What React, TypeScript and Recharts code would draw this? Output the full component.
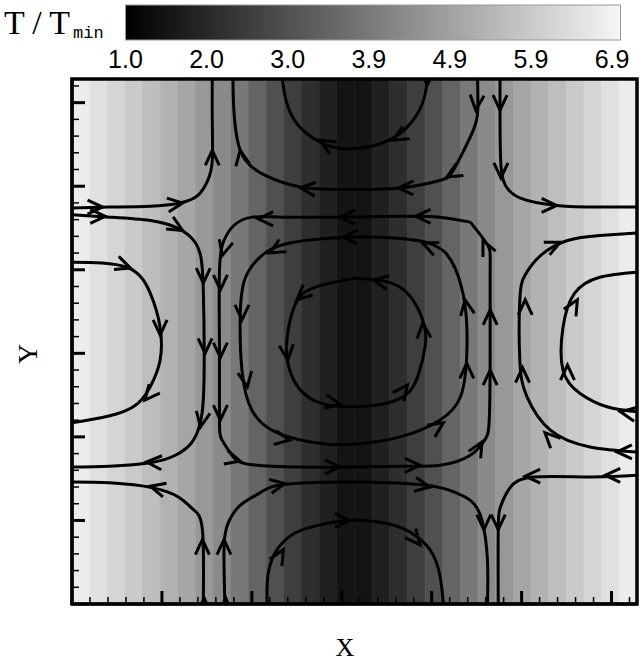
import { ScatterChart, Scatter, XAxis, YAxis, ReferenceArea } from "recharts";

const TWO_PI = 6.2832;

// T/Tmin in each vertical band of the field, left to right
const bandT = [
  6.46, 6.18, 5.93, 5.67, 5.4, 5.12, 4.84, 4.52, 4.19, 3.78, 3.31, 2.85, 2.43, 2.06, 1.74, 1.46,
  1.46, 1.74, 2.06, 2.43, 2.85, 3.31, 3.78, 4.19, 4.52, 4.84, 5.12, 5.4, 5.67, 5.93, 6.18, 6.46,
];

const legendLabels = ["1.0", "2.0", "3.0", "3.9", "4.9", "5.9", "6.9"];

const xTicks = [
  0.2, 0.4, 0.6, 0.8, 1, 1.2, 1.4, 1.6, 1.8, 2, 2.2, 2.4, 2.6, 2.8, 3, 3.2, 3.4, 3.6, 3.8, 4, 4.2,
  4.4, 4.6, 4.8, 5, 5.2, 5.4, 5.6, 5.8, 6, 6.2,
];
const yTicks = xTicks;

// streamlines, [x, y] in the plot's units (0..2pi)
const topLeftUp = [[0, 4.74], [0.42, 4.75], [0.87, 4.76], [1.2, 4.8], [1.4, 4.89], [1.51, 5.07], [1.56, 5.31], [1.56, 5.79], [1.56, 6.28]];
const leftOuter = [[0, 4.66], [0.42, 4.63], [0.87, 4.59], [1.15, 4.51], [1.33, 4.38], [1.43, 4.17], [1.46, 3.76], [1.47, 3.04], [1.46, 2.44], [1.42, 2.14], [1.33, 1.93], [1.15, 1.78], [0.87, 1.69], [0.42, 1.65], [0, 1.64]];
const centreOuter = [[4.43, 4.57], [4.09, 4.63], [3.65, 4.64], [3.0, 4.63], [2.34, 4.63], [2.0, 4.63], [1.8, 4.53], [1.69, 4.35], [1.64, 4.0], [1.64, 3.04], [1.64, 2.2], [1.67, 1.96], [1.78, 1.78], [1.98, 1.67], [2.54, 1.64], [3.09, 1.64], [3.65, 1.65], [4.09, 1.66], [4.43, 1.78], [4.59, 1.96], [4.64, 2.2], [4.65, 3.04], [4.65, 4.0], [4.62, 4.3], [4.43, 4.57]];
const centreMid = [[4.15, 4.21], [3.84, 4.35], [3.09, 4.39], [2.42, 4.32], [2.11, 4.17], [1.92, 3.88], [1.87, 3.4], [1.89, 2.8], [2.0, 2.32], [2.26, 2.06], [2.65, 1.94], [3.09, 1.91], [3.65, 2.0], [4.09, 2.2], [4.32, 2.48], [4.39, 2.98], [4.37, 3.58], [4.26, 4.02], [4.15, 4.21]];
const centreInner = [[3.15, 3.9], [2.7, 3.79], [2.48, 3.58], [2.39, 3.16], [2.42, 2.8], [2.65, 2.46], [3.15, 2.36], [3.65, 2.46], [3.85, 2.74], [3.93, 3.1], [3.9, 3.4], [3.65, 3.79], [3.15, 3.9]];
const topInner = [[3.95, 6.27], [3.9, 6.0], [3.73, 5.71], [3.46, 5.52], [3.13, 5.45], [2.84, 5.49], [2.54, 5.7], [2.39, 5.99], [2.34, 6.27]];
const topOuter = [[4.51, 6.28], [4.51, 5.87], [4.43, 5.59], [4.24, 5.19], [4.09, 5.07], [3.65, 4.98], [2.98, 4.96], [2.54, 4.99], [2.15, 5.13], [1.93, 5.31], [1.84, 5.55], [1.8, 5.91], [1.79, 6.28]];
const topRightDown = [[4.76, 6.28], [4.76, 5.79], [4.77, 5.25], [4.82, 5.01], [4.98, 4.86], [5.39, 4.77], [5.87, 4.75], [6.28, 4.75]];
const rightOuter = [[6.28, 1.82], [5.76, 1.88], [5.32, 2.08], [5.06, 2.48], [4.98, 2.92], [4.98, 3.64], [5.04, 3.94], [5.21, 4.17], [5.51, 4.35], [5.87, 4.41], [6.28, 4.44]];
const rightInner = [[6.28, 2.3], [5.95, 2.36], [5.65, 2.52], [5.46, 2.8], [5.46, 3.31], [5.59, 3.72], [5.87, 3.91], [6.28, 3.97]];
const leftInner = [[0, 4.09], [0.61, 4.03], [0.87, 3.72], [0.98, 3.31], [0.98, 2.92], [0.87, 2.6], [0.61, 2.32], [0, 2.17]];
const bottomLeftUp = [[1.46, 0], [1.45, 0.89], [1.35, 1.13], [1.2, 1.27], [0.9, 1.39], [0.42, 1.45], [0, 1.46]];
const bottomOuter = [[1.7, 0], [1.69, 0.65], [1.73, 0.95], [1.87, 1.18], [2.09, 1.33], [2.35, 1.43], [3.09, 1.46], [3.87, 1.43], [4.2, 1.36], [4.43, 1.24], [4.56, 1.0], [4.62, 0.53], [4.62, 0]];
const bottomInner = [[2.17, 0], [2.18, 0.35], [2.28, 0.65], [2.48, 0.85], [2.73, 0.94], [3.09, 1.0], [3.48, 0.97], [3.76, 0.86], [3.98, 0.65], [4.09, 0.35], [4.13, 0]];
const bottomRightDown = [[6.28, 1.54], [5.76, 1.52], [5.13, 1.52], [4.87, 1.39], [4.77, 1.18], [4.74, 0.89], [4.74, 0]];

const streamlines = [
  topLeftUp, leftOuter, centreOuter, centreMid, centreInner, topInner, topOuter, topRightDown,
  rightOuter, rightInner, leftInner, bottomLeftUp, bottomOuter, bottomInner, bottomRightDown,
];

// arrowheads: x, y, heading on screen in degrees (0 = right, 90 = down)
const arrows = [
  [0.34, 4.75, 0], [1.23, 4.8, 352], [1.56, 5.43, 270],
  [0.37, 4.64, 0], [1.23, 4.47, 30], [1.46, 3.84, 90], [1.48, 3.0, 90], [1.43, 2.12, 100], [0.83, 1.7, 183],
  [3.82, 4.64, 180], [2.98, 4.63, 180], [2.07, 4.61, 180], [1.67, 4.17, 105], [1.65, 3.76, 90], [1.65, 2.95, 90], [1.65, 2.2, 90],
  [1.87, 1.71, 15], [2.98, 1.64, 0], [3.87, 1.66, 0], [4.56, 1.94, 300], [4.65, 2.8, 270], [4.65, 3.52, 270], [4.57, 4.35, 245],
  [3.9, 4.32, 203], [3.01, 4.39, 180], [2.2, 4.2, 150], [1.89, 3.4, 90], [1.95, 2.6, 80], [2.42, 1.96, 10], [4.13, 2.17, 326], [4.39, 2.88, 270], [4.37, 3.64, 260],
  [3.35, 3.88, 191], [2.5, 3.64, 138], [2.4, 2.92, 84], [2.98, 2.39, 11], [3.73, 2.62, 308], [3.9, 3.36, 265],
  [3.95, 6.21, 92], [3.57, 5.55, 150], [2.76, 5.55, 210],
  [4.49, 5.91, 95], [4.17, 5.11, 150], [3.63, 4.98, 180], [2.54, 4.98, 185], [1.87, 5.43, 260],
  [4.76, 5.91, 90], [4.77, 5.1, 90], [5.39, 4.77, 0],
  [6.06, 1.82, 180], [5.26, 2.05, 225], [5.01, 2.83, 270], [5.04, 3.64, 270], [5.43, 4.33, 335],
  [6.1, 2.3, 190], [5.51, 2.86, 270], [5.62, 3.64, 300],
  [0.65, 4.02, 20], [0.98, 3.22, 90], [0.81, 2.44, 130],
  [1.45, 0.77, 270], [1.47, 0.07, 270], [0.87, 1.41, 195],
  [1.69, 0.77, 270], [1.71, 0.07, 270], [2.37, 1.44, 350], [3.98, 1.4, 10], [4.58, 0.89, 90],
  [2.35, 0.65, 300], [3.09, 1.0, 0], [3.87, 0.71, 50],
  [5.93, 1.54, 180], [5.04, 1.53, 180], [4.74, 0.89, 90],
];

const T_MIN = 1.0;
const T_MAX = 6.9;
const grey = (t: number) => {
  const g = Math.round(((t - T_MIN) / (T_MAX - T_MIN)) * 255);
  return `rgb(${g},${g},${g})`;
};

const bandW = TWO_PI / bandT.length;
const lineData = streamlines.map((s) => s.map(([x, y]) => ({ x, y })));
const arrowData = arrows.map(([x, y, a]) => ({ x, y, a }));

const isMajor = (v: number) => Math.abs(v - Math.round(v)) < 1e-6;

const XTick = ({ x, y, payload }: any) => {
  const major = isMajor(payload.value);
  return <line x1={x} y1={y} x2={x} y2={y - (major ? 13 : 7)} stroke="#000" strokeWidth={major ? 3 : 1.5} />;
};

const YTick = ({ x, y, payload }: any) => {
  const major = isMajor(payload.value);
  return <line x1={x} y1={y} x2={x + (major ? 13 : 7)} y2={y} stroke="#000" strokeWidth={major ? 3 : 1.5} />;
};

const Arrow = ({ cx, cy, payload }: any) => {
  if (cx == null || cy == null) return <g />;
  return (
    <path
      d="M-15,-7 L0,0 L-15,7"
      transform={`translate(${cx},${cy}) rotate(${payload.a})`}
      fill="none"
      stroke="#000"
      strokeWidth={3}
    />
  );
};

const NoDot = () => <g />;

export default function App() {
  return (
    <div style={{ position: "absolute", left: 0, top: 0, width: 643, height: 664, background: "#fff" }}>
      <ScatterChart width={643} height={664} margin={{ top: 79, right: 6, bottom: 59, left: 71 }}>
        {bandT.map((t, i) => (
          <ReferenceArea
            key={`b${i}`}
            x1={i * bandW}
            x2={(i + 1) * bandW}
            y1={0}
            y2={TWO_PI}
            fill={grey(t)}
            fillOpacity={1}
            stroke={grey(t)}
            strokeWidth={0.6}
            ifOverflow="hidden"
            zIndex={-200}
          />
        ))}
        {lineData.map((pts, i) => (
          <Scatter
            key={`s${i}`}
            data={pts}
            line={{ stroke: "#000", strokeWidth: 3 }}
            lineType="joint"
            lineJointType="natural"
            shape={<NoDot />}
            fill="none"
            isAnimationActive={false}
          />
        ))}
        <Scatter data={arrowData} shape={<Arrow />} isAnimationActive={false} />
        <ReferenceArea
          x1={0}
          x2={TWO_PI}
          y1={0}
          y2={TWO_PI}
          fill="none"
          stroke="#000"
          strokeWidth={3.5}
          ifOverflow="visible"
          zIndex={900}
        />
        <XAxis
          type="number"
          dataKey="x"
          domain={[0, TWO_PI]}
          allowDataOverflow
          ticks={xTicks}
          interval={0}
          height={1}
          tickSize={0}
          tickMargin={0}
          tickLine={false}
          tick={<XTick />}
          axisLine={{ stroke: "#000", strokeWidth: 3 }}
          zIndex={950}
        />
        <YAxis
          type="number"
          dataKey="y"
          domain={[0, TWO_PI]}
          allowDataOverflow
          ticks={yTicks}
          interval={0}
          width={1}
          tickSize={0}
          tickMargin={0}
          tickLine={false}
          tick={<YTick />}
          axisLine={{ stroke: "#000", strokeWidth: 3 }}
          zIndex={950}
        />
      </ScatterChart>

      <svg width={643} height={664} style={{ position: "absolute", left: 0, top: 0, pointerEvents: "none" }}>
        <defs>
          <linearGradient id="cbar" x1="0" x2="1" y1="0" y2="0">
            <stop offset="0" stopColor="#000" />
            <stop offset="1" stopColor="#f6f6f6" />
          </linearGradient>
        </defs>
        <rect x={125.5} y={5} width={495} height={35} fill="url(#cbar)" stroke="#999" strokeWidth={1} />
        <text
          x={4}
          y={34}
          fontFamily="'Liberation Serif', serif"
          fontSize={34}
          textLength={66}
          lengthAdjust="spacing"
          fill="#000"
        >
          T/T
        </text>
        <text x={73} y={38} fontFamily="'Liberation Mono', monospace" fontSize={17} fill="#000">
          min
        </text>
        {legendLabels.map((l, i) => (
          <text
            key={l}
            x={125.5 + i * 81.1}
            y={68}
            textAnchor="middle"
            fontFamily="'Liberation Sans', Arial, sans-serif"
            fontSize={25}
            fill="#000"
          >
            {l}
          </text>
        ))}
        <text x={345} y={656} textAnchor="middle" fontFamily="'Liberation Serif', serif" fontSize={26} fill="#000">
          X
        </text>
        <text
          transform="translate(37,354) rotate(-90)"
          textAnchor="middle"
          fontFamily="'Liberation Serif', serif"
          fontSize={28}
          fill="#000"
        >
          Y
        </text>
      </svg>
    </div>
  );
}
